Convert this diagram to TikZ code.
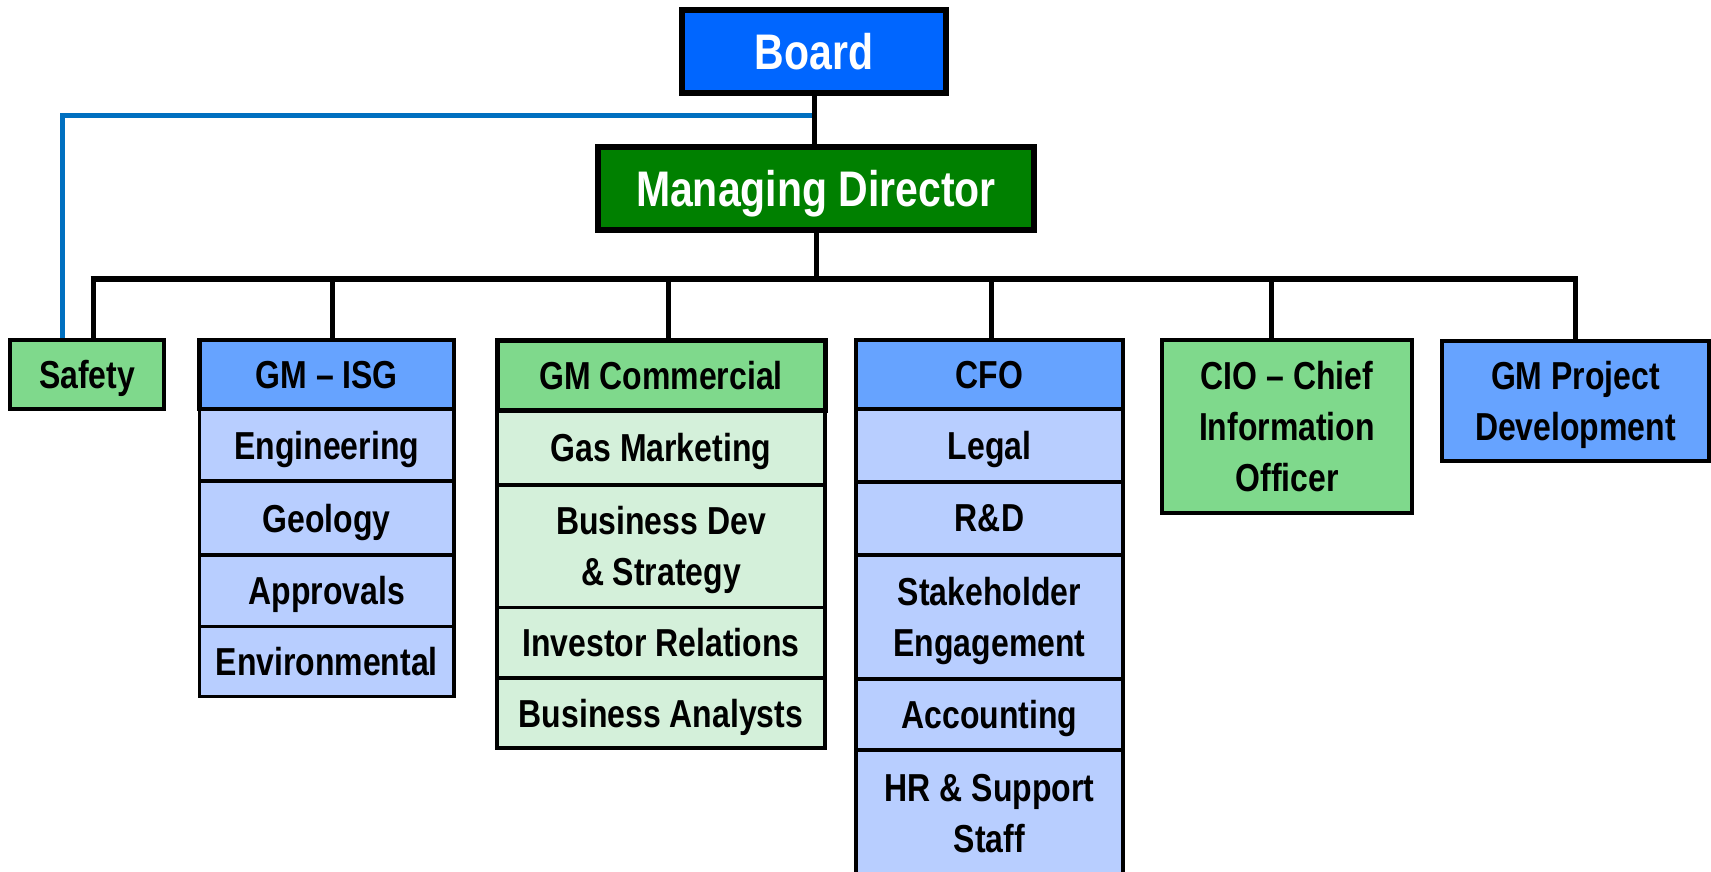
\documentclass[tikz,border=0pt]{standalone}
\usepackage{fontspec}
\setmainfont{Liberation Sans}[FakeStretch=0.82]
\usetikzlibrary{backgrounds}
\definecolor{boardblue}{HTML}{0066FF}
\definecolor{mdgreen}{HTML}{008000}
\definecolor{hdrblue}{HTML}{66A3FF}
\definecolor{subblue}{HTML}{B8CEFF}
\definecolor{hdrgreen}{HTML}{7FD98C}
\definecolor{subgreen}{HTML}{D4F0DA}
\definecolor{linkblue}{HTML}{0070C0}
\newcommand\obox[7]{\node[#2, minimum width={#5-#3}, minimum height={#6-#4}, anchor=north west] (#1) at (#3,#4) {#7};}
\newcommand\nd[1]{\raisebox{0pt}[\height][0pt]{#1}}
\begin{document}
\begin{tikzpicture}[x=1pt,y=-1pt,
  box/.style={draw=black, line width=4.5pt, outer sep=0pt, inner sep=0pt, align=center,
    font=\fontsize{39}{51}\selectfont\bfseries, text=black},
  topbox/.style={box, line width=6pt, font=\fontsize{50}{60}\selectfont\bfseries, text=white},
  hblue/.style={box, fill=hdrblue},
  hgreen/.style={box, fill=hdrgreen},
  sblue/.style={box, line width=3.5pt, fill=subblue},
  sgreen/.style={box, line width=3.5pt, fill=subgreen},
  conn/.style={draw=black, line width=5pt},
  bar/.style={draw=black, line width=5.5pt},
  safetylink/.style={draw=linkblue, line width=5pt}]
\useasboundingbox (0,0) rectangle (1711,872);
\clip (0,0) rectangle (1711,872);
% top
\obox{board}{topbox, fill=boardblue}{682}{10}{946}{93}{\nd{Board}}
\obox{md}{topbox, fill=mdgreen}{598}{147}{1034}{230}{\nd{Managing Director}}
% safety
\obox{safety}{hgreen}{10}{340}{164}{409}{\nd{Safety}}
% GM - ISG
\obox{isg}{hblue}{199.5}{340}{454}{409}{\nd{GM – ISG}}
\obox{eng}{sblue}{199.5}{409}{454}{481}{\nd{Engineering}}
\obox{geo}{sblue}{199.5}{481}{454}{555}{\nd{Geology}}
\obox{appr}{sblue}{199.5}{555}{454}{626.5}{\nd{Approvals}}
\obox{env}{sblue}{199.5}{626.5}{454}{696.5}{\nd{Environmental}}
% GM Commercial
\obox{gas}{sgreen}{497}{410}{825}{485}{\nd{Gas Marketing}}
\obox{bdev}{sgreen}{497}{485}{825}{607.5}{Business Dev\\\nd{\& Strategy}}
\obox{inv}{sgreen}{497}{607.5}{825}{678}{\nd{Investor Relations}}
\obox{ana}{sgreen}{497}{678}{825}{748}{\nd{Business Analysts}}
\obox{com}{hgreen, line width=5pt}{497}{340}{825}{410}{\nd{GM Commercial}}
% CFO
\obox{legal}{sblue}{856}{409}{1123}{482}{\nd{Legal}}
\obox{rd}{sblue}{856}{482}{1123}{555}{\nd{R\&D}}
\obox{stake}{sblue}{856}{555}{1123}{679}{Stakeholder\\\nd{Engagement}}
\obox{acc}{sblue}{856}{679}{1123}{750}{\nd{Accounting}}
\obox{hr}{sblue}{856}{750}{1123}{876}{HR \& Support\\\nd{Staff}}
\obox{cfo}{hblue}{856}{340}{1123}{409}{\nd{CFO}}
% CIO
\obox{cio}{hgreen}{1162}{340}{1412}{513}{CIO – Chief\\Information\\\nd{Officer}}
% GM Project
\obox{proj}{hblue}{1442}{341}{1709}{461}{GM Project\\\nd{Development}}
% connectors
\coordinate (bl) at (62,116);
\coordinate (bS) at (93,279);
\coordinate (bI) at (332,279);
\coordinate (bC) at (668,279);
\coordinate (bF) at (991,279);
\coordinate (bO) at (1271,279);
\coordinate (bP) at (1575,279);
\begin{scope}[on background layer]
\draw[safetylink] (board.south |- bl) -- (bl) -- (bl |- safety.north);
\draw[conn] (board.south) -- (board.south |- md.north);
\draw[conn] (md.south) -- (md.south |- bS);
\draw[bar] ([xshift=-2.5pt]bS) -- ([xshift=2.5pt]bP);
\draw[conn] (bS) -- (bS |- safety.north);
\draw[conn] (bI) -- (bI |- isg.north);
\draw[conn] (bC) -- (bC |- com.north);
\draw[conn] (bF) -- (bF |- cfo.north);
\draw[conn] (bO) -- (bO |- cio.north);
\draw[conn] (bP) -- (bP |- proj.north);
\end{scope}
\end{tikzpicture}
\end{document}
